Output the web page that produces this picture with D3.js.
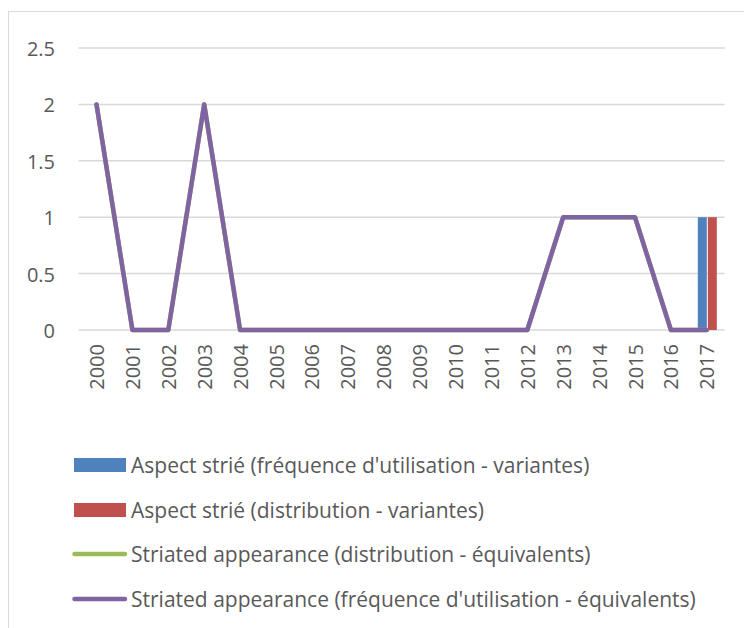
<!DOCTYPE html>
<html>
<head>
<meta charset="utf-8">
<script src="https://cdn.jsdelivr.net/npm/d3@7"></script>
<style>
  html, body { margin: 0; padding: 0; background: #fff; }
  svg { display: block; font-family: "Open Sans", sans-serif; }
</style>
</head>
<body>
<svg id="chart" width="744" height="628"></svg>
<script>
// Years on the category axis
const years = ["2000","2001","2002","2003","2004","2005","2006","2007","2008","2009",
               "2010","2011","2012","2013","2014","2015","2016","2017"];

// Bar series (variantes)
const freqVariantes = [0,0,0,0,0,0,0,0,0,0,0,0,0,0,0,0,0,1];
const distVariantes = [0,0,0,0,0,0,0,0,0,0,0,0,0,0,0,0,0,1];

// Line series (équivalents)
const distEquivalents = [2,0,0,2,0,0,0,0,0,0,0,0,0,1,1,1,0,0];
const freqEquivalents = [2,0,0,2,0,0,0,0,0,0,0,0,0,1,1,1,0,0];

const yTicks = [0, 0.5, 1, 1.5, 2, 2.5];

const seriesNames = [
  "Aspect strié (fréquence d'utilisation - variantes)",
  "Aspect strié (distribution - variantes)",
  "Striated appearance (distribution - équivalents)",
  "Striated appearance (fréquence d'utilisation - équivalents)"
];
const colors = ["#4F81BD", "#C0504D", "#9BBB59", "#8064A2"];

const textColor = "#595959";
const svg = d3.select("#chart");

// Chart frame
svg.append("rect")
  .attr("x", 8.5).attr("y", 11.5)
  .attr("width", 760).attr("height", 640)
  .attr("fill", "#fff").attr("stroke", "#d9d9d9").attr("stroke-width", 1);

const plot = { left: 78.55, right: 724.75, top: 48, bottom: 330 };

const x = d3.scaleBand().domain(years).range([plot.left, plot.right]).padding(0);
const y = d3.scaleLinear().domain([0, 2.5]).range([plot.bottom, plot.top]);
const cx = d => x(d) + x.bandwidth() / 2;

// Gridlines
svg.append("g").selectAll("line").data(yTicks).join("line")
  .attr("x1", plot.left).attr("x2", plot.right)
  .attr("y1", d => y(d)).attr("y2", d => y(d))
  .attr("stroke", "#d9d9d9").attr("stroke-width", 1.5);

// Y axis labels
const yAxis = d3.axisLeft(y).tickValues(yTicks).tickSize(0).tickPadding(0)
  .tickFormat(d => String(d));
svg.append("g").attr("transform", "translate(55,0)").call(yAxis)
  .call(g => g.select(".domain").remove())
  .selectAll("text")
  .attr("fill", textColor).attr("font-size", 20).attr("font-family", "'Open Sans', sans-serif")
  .attr("dy", null).attr("dominant-baseline", "central");

// X axis labels (rotated)
const xAxis = d3.axisBottom(x).tickSize(0).tickPadding(0);
svg.append("g").attr("transform", `translate(0,${plot.bottom})`).call(xAxis)
  .call(g => g.select(".domain").remove())
  .selectAll("text")
  .attr("fill", textColor).attr("font-size", 20).attr("font-family", "'Open Sans', sans-serif")
  .attr("text-anchor", "end").attr("dy", null).attr("y", 0)
  .attr("transform", "translate(0,14) rotate(-90)")
  .attr("dominant-baseline", "central");

// Bars, side by side around the category centre
const barW = 9;
[freqVariantes, distVariantes].forEach((vals, si) => {
  const data = years.map((yr, i) => ({ yr, v: vals[i] })).filter(d => d.v > 0);
  svg.append("g").selectAll("rect").data(data).join("rect")
    .attr("x", d => si === 0 ? cx(d.yr) - barW : cx(d.yr) + 1)
    .attr("width", barW)
    .attr("y", d => y(d.v))
    .attr("height", d => y(0) - y(d.v))
    .attr("fill", colors[si]);
});

// Lines
const line = d3.line()
  .x((d, i) => cx(years[i]))
  .y(d => y(d));
[distEquivalents, freqEquivalents].forEach((vals, si) => {
  svg.append("path").datum(vals)
    .attr("d", line)
    .attr("fill", "none")
    .attr("stroke", colors[2 + si])
    .attr("stroke-width", 4.5)
    .attr("stroke-linejoin", "round")
    .attr("stroke-linecap", "round");
});

// Legend
const legendRows = [465, 510, 554, 599];
const legend = svg.append("g");
seriesNames.forEach((name, i) => {
  const g = legend.append("g").attr("transform", `translate(0,${legendRows[i]})`);
  if (i < 2) {
    g.append("rect").attr("x", 74).attr("y", -7).attr("width", 52).attr("height", 14)
      .attr("fill", colors[i]);
  } else {
    g.append("line").attr("x1", 74.5).attr("x2", 125).attr("y1", 0).attr("y2", 0)
      .attr("stroke", colors[i]).attr("stroke-width", 4.5).attr("stroke-linecap", "round");
  }
  g.append("text").attr("x", 131).attr("y", 0).attr("dominant-baseline", "central")
    .attr("fill", textColor).attr("font-size", 21)
    .text(name);
});
</script>
</body>
</html>
